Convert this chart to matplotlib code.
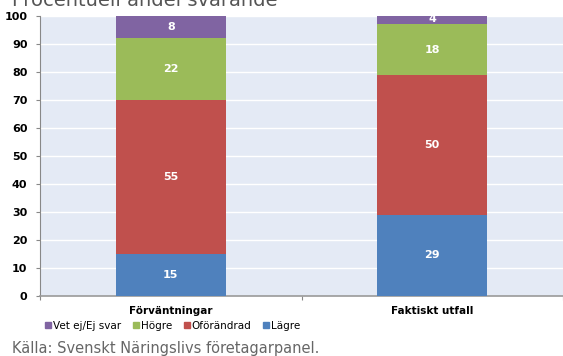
import numpy as np
import matplotlib
matplotlib.use("Agg")
import matplotlib.pyplot as plt
from matplotlib.lines import Line2D

# Survey shares, in percent
categories = ["Förväntningar", "Faktiskt utfall"]
series_names = ["Lägre", "Oförändrad", "Högre", "Vet ej/Ej svar"]
lagre = [15, 29]
oforandrad = [55, 50]
hogre = [22, 18]
vet_ej = [8, 4]
colors = ["#4F81BD", "#C0504D", "#9BBB59", "#8064A2"]

plt.rcParams['font.family'] = ['DejaVu Sans']

fig = plt.figure(figsize=(5.63, 3.56), dpi=100)
ax = fig.add_axes([40 / 563, 1 - 296 / 356, 1 - 40 / 563, 280 / 356])
ax.set_facecolor("#E4EAF5")

x = np.arange(len(categories))
bottom = np.zeros(len(categories))
for vals, col in zip([lagre, oforandrad, hogre, vet_ej], colors):
    vals = np.array(vals, dtype=float)
    ax.bar(x, vals, width=0.42, bottom=bottom, color=col, zorder=3)
    for xi, b, v in zip(x, bottom, vals):
        ax.text(xi, b + v / 2, f"{v:.0f}", ha="center", va="center",
                color="white", fontsize=8, fontweight="bold", zorder=4)
    bottom += vals

ax.set_xlim(-0.5, 1.5)
ax.set_ylim(0, 100)
ax.set_yticks(range(0, 101, 10))
ax.tick_params(axis="y", labelsize=8, length=3, color="#888888", pad=6)
for lbl in ax.get_yticklabels():
    lbl.set_fontweight("bold")
ax.yaxis.grid(True, color="white", linewidth=1, zorder=0)

# category labels in the middle, tick marks on the boundaries
ax.set_xticks([-0.5, 0.5, 1.5])
ax.set_xticklabels([])
ax.tick_params(axis="x", length=3, color="#888888")
for xi, c in zip(x, categories):
    ax.text(xi, -3.5, c, ha="center", va="top", fontsize=7.5,
            fontweight="bold", transform=ax.transData)

for side in ["top", "right"]:
    ax.spines[side].set_visible(False)
ax.spines["left"].set_color("#888888")
ax.spines["bottom"].set_color("#999999")
ax.spines["bottom"].set_linewidth(1.2)

handles = [Line2D([], [], marker="s", linestyle="", markersize=4,
                  color=c) for c in colors[::-1]]
fig.legend(handles, series_names[::-1], loc="center left",
           bbox_to_anchor=(33 / 563, 1 - 326 / 356), ncol=4, frameon=False,
           fontsize=7.5, handletextpad=0.0, columnspacing=0.9,
           handlelength=1.0)

fig.text(12 / 563, 1 - 6 / 356, "Procentuell andel svarande", fontsize=14,
         color="#555555", va="baseline", ha="left")
fig.text(12 / 563, 1 - 353 / 356, "Källa: Svenskt Näringslivs företagarpanel.",
         fontsize=10.5, color="#666666", va="baseline", ha="left")

fig.savefig("out.png", dpi=100)
